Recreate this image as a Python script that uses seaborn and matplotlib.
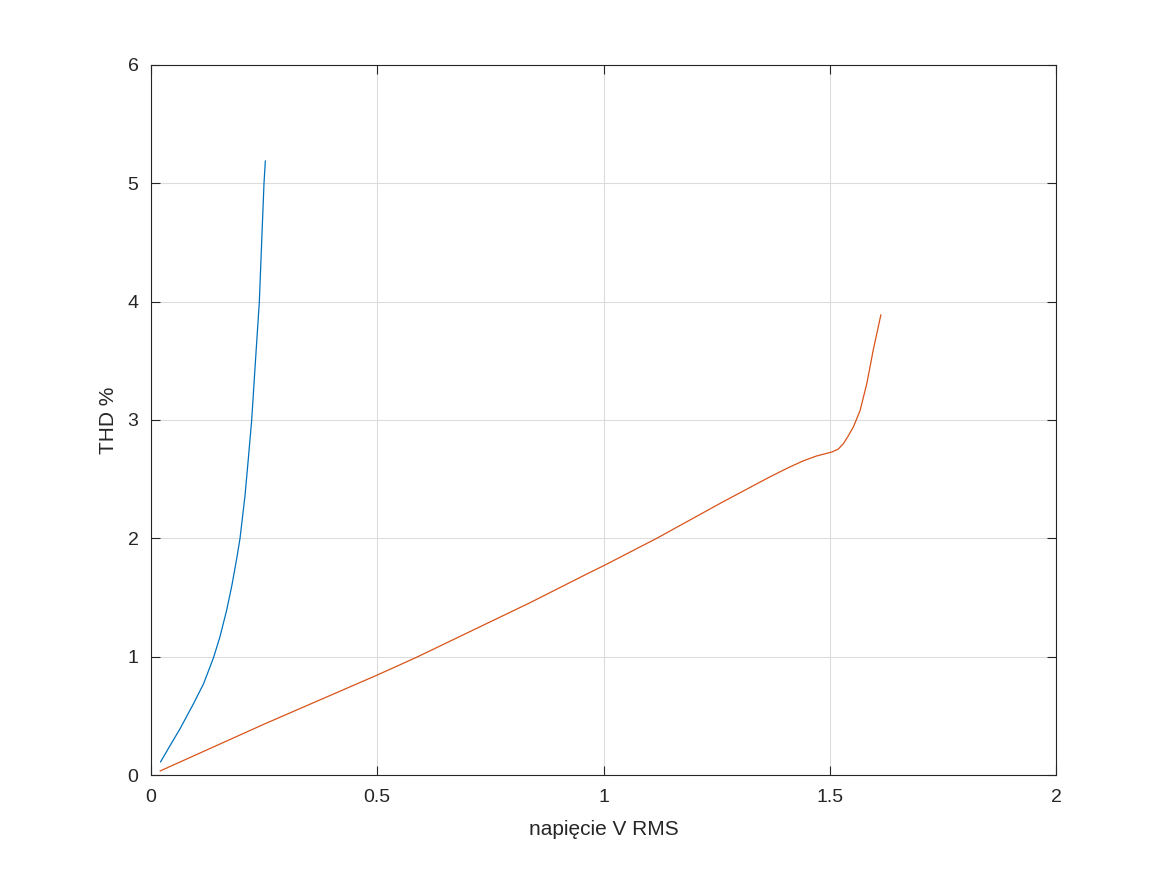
import numpy as np
import pandas as pd
import matplotlib
matplotlib.use("Agg")
import matplotlib.pyplot as plt
import seaborn as sns

# values
blue_v = [0.021, 0.040, 0.064, 0.0935, 0.116, 0.138, 0.1525, 0.167, 0.1786, 0.189,
          0.1967, 0.2077, 0.215, 0.2225, 0.230, 0.2394, 0.2445, 0.2497, 0.2527]
blue_thd = [0.11, 0.235, 0.39, 0.60, 0.77, 0.99, 1.17, 1.39, 1.60, 1.82,
            2.00, 2.36, 2.67, 3.00, 3.45, 4.00, 4.50, 5.00, 5.19]

orange_v = [0.020, 0.25, 0.50, 0.587, 0.70, 0.8376, 0.970, 1.0, 1.1175, 1.2647,
            1.368, 1.41, 1.4416, 1.47, 1.49, 1.505, 1.519, 1.530, 1.540, 1.552,
            1.567, 1.582, 1.596, 1.613]
orange_thd = [0.034, 0.43, 0.845, 0.995, 1.203, 1.456, 1.712, 1.768, 2.00, 2.31,
              2.52, 2.60, 2.655, 2.695, 2.715, 2.73, 2.755, 2.80, 2.86, 2.94,
              3.08, 3.31, 3.59, 3.89]

x_ticks = [0, 0.5, 1, 1.5, 2]
x_labels = ["0", "0.5", "1", "1.5", "2"]
y_ticks = [0, 1, 2, 3, 4, 5, 6]

sns.set_theme(style="white")
plt.rcParams['font.family'] = ['Liberation Sans', 'DejaVu Sans']

df = pd.concat([
    pd.DataFrame({"v": blue_v, "thd": blue_thd, "seria": "a"}),
    pd.DataFrame({"v": orange_v, "thd": orange_thd, "seria": "b"}),
])

fig = plt.figure(figsize=(11.67, 8.71), dpi=100)
ax = fig.add_axes([0.1294, 0.1102, 0.7755, 0.8152])

sns.lineplot(data=df, x="v", y="thd", hue="seria", sort=False, estimator=None,
             palette=["#0072BD", "#D95319"], linewidth=0.9, legend=False, ax=ax)

ax.set_xlim(0, 2)
ax.set_ylim(0, 6)
ax.set_xticks(x_ticks)
ax.set_xticklabels(x_labels)
ax.set_yticks(y_ticks)
ax.grid(True, color="#dcdcdc", linewidth=0.8)
ax.set_axisbelow(True)

for s in ax.spines.values():
    s.set_visible(True)
    s.set_color("#262626")
    s.set_linewidth(0.8)

ax.tick_params(direction="in", length=6.5, width=0.8, color="#262626",
               bottom=True, left=True, top=True, right=True,
               labelsize=14, labelcolor="#262626")
ax.tick_params(axis="x", pad=10)
ax.tick_params(axis="y", pad=9)

ax.set_xlabel("napięcie V RMS", fontsize=15, color="#262626", labelpad=10)
ax.set_ylabel("THD %", fontsize=15, color="#262626", labelpad=7)

fig.savefig("out.png", dpi=100)
